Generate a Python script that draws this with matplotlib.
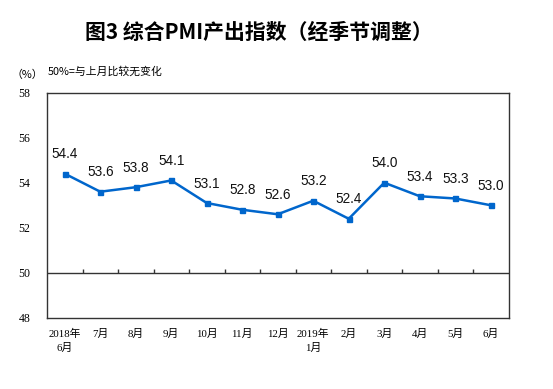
# IMPORTS
import numpy as np
import matplotlib
matplotlib.use("Agg")
import matplotlib.pyplot as plt


# DATA
months = ["2018年\n6月", "7月", "8月", "9月", "10月", "11月", "12月",
          "2019年\n1月", "2月", "3月", "4月", "5月", "6月"]
pmi_values = [54.4, 53.6, 53.8, 54.1, 53.1, 52.8, 52.6,
              53.2, 52.4, 54.0, 53.4, 53.3, 53.0]
y_ticks = [48, 50, 52, 54, 56, 58]


# FIGURE
line_color = "#0066CC"
cjk = ["Noto Sans CJK SC", "DejaVu Sans"]
serif_cjk = ["Liberation Serif", "Noto Sans CJK SC"]

fig = plt.figure(figsize=(5.53, 3.89), dpi=100)
ax = fig.add_axes([47 / 553, 1 - 318 / 389, (508.5 - 47) / 553, (318 - 92.5) / 389])

x_pos = np.arange(len(months))
ax.plot(x_pos, pmi_values, color=line_color, linewidth=1.8,
        marker="s", markersize=3.6, zorder=3)
for i, v in enumerate(pmi_values):
    ax.annotate("%.1f" % v, (x_pos[i], v), xytext=(0, 14), textcoords="offset points",
                ha="center", va="center", fontsize=9.8, family="Liberation Sans",
                color="#111111")

ax.set_xlim(-0.5, len(months) - 0.5)
ax.set_ylim(48, 58)
ax.set_yticks(y_ticks)
ax.set_yticklabels([str(t) for t in y_ticks], family="Liberation Serif", fontsize=8.5)
ax.tick_params(axis="y", length=0, pad=12)

ax.set_xticks(x_pos)
ax.set_xticklabels(months, family=serif_cjk, fontsize=7.8, linespacing=1.45)
ax.tick_params(axis="x", length=0, pad=8)

for s in ax.spines.values():
    s.set_color("#333333")
    s.set_linewidth(1.0)

# 50 line with month boundary ticks
ax.axhline(50, color="#333333", linewidth=1.0, zorder=2)
sec = ax.secondary_xaxis((50 - 48) / (58 - 48))
sec.set_xticks(np.arange(0.5, len(months) - 1, 1.0))
sec.tick_params(axis="x", direction="in", length=3, width=1.0, color="#333333",
                labelbottom=False, labeltop=False)
sec.spines["bottom"].set_visible(False)
sec.spines["top"].set_visible(False)

# TEXTS
fig.text(258.5 / 553, 1 - 32 / 389, "图3 综合PMI产出指数（经季节调整）",
         ha="center", va="center", fontsize=15, fontweight="bold", family=cjk)
fig.text(27 / 553, 1 - 75 / 389, "（%）", ha="center", va="center",
         fontsize=7.8, family=cjk)
fig.text(48 / 553, 1 - 71 / 389, "50%=与上月比较无变化", ha="left", va="center",
         fontsize=7.8, family=cjk)

fig.savefig("out.png", dpi=100)
